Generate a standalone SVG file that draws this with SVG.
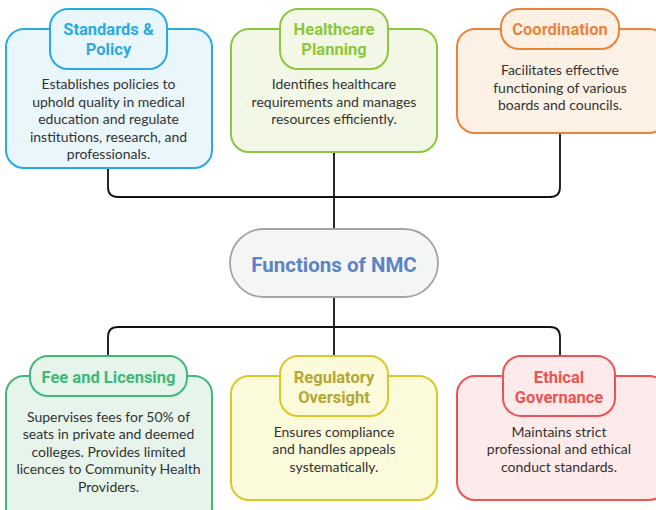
<svg xmlns="http://www.w3.org/2000/svg" width="656" height="510" viewBox="0 0 656 510">
<style>
.conn{fill:none;stroke:#111;stroke-width:1.8}
.hd{font-family:Roboto,"Liberation Sans",sans-serif;font-weight:bold;font-size:16.5px;text-anchor:middle}
.bd{font-family:Lato,"Open Sans","Liberation Sans",sans-serif;font-size:14px;fill:#333;text-anchor:middle}
.box{stroke-width:2}
</style>
<rect width="656" height="510" fill="#ffffff"/>
<g id="connectors">
<path class="conn" d="M108 168 V187 Q108 197 118 197 H550 Q560 197 560 187 V133"/>
<path class="conn" d="M334 152 V229"/>
<path class="conn" d="M334 297 V356"/>
<path class="conn" d="M108 356 V337 Q108 327 118 327 H550 Q560 327 560 337 V356"/>
</g>
<g id="standards">
<rect class="box" x="6" y="29" width="206" height="139" rx="18" fill="#e9f6fc" stroke="#29abe2"/>
<rect class="box" x="50" y="9" width="117" height="60" rx="18" fill="#e9f6fc" stroke="#29abe2"/>
<text class="hd" fill="#29abe2" x="108.5" y="35">Standards &amp;</text>
<text class="hd" fill="#29abe2" x="108.5" y="55">Policy</text>
<text class="bd" x="108.5" y="89">Establishes policies to</text>
<text class="bd" x="108.5" y="106.5">uphold quality in medical</text>
<text class="bd" x="108.5" y="124">education and regulate</text>
<text class="bd" x="108.5" y="141.5">institutions, research, and</text>
<text class="bd" x="108.5" y="159">professionals.</text>
</g>
<g id="healthcare">
<rect class="box" x="231" y="29" width="206" height="123" rx="18" fill="#f3f8e6" stroke="#8dc63f"/>
<rect class="box" x="280" y="9" width="108" height="60" rx="18" fill="#f3f8e6" stroke="#8dc63f"/>
<text class="hd" fill="#8dc63f" x="334" y="35">Healthcare</text>
<text class="hd" fill="#8dc63f" x="334" y="55">Planning</text>
<text class="bd" x="334" y="89">Identifies healthcare</text>
<text class="bd" x="334" y="106.5">requirements and manages</text>
<text class="bd" x="334" y="124">resources efficiently.</text>
</g>
<g id="coordination">
<rect class="box" x="457" y="29" width="210" height="104" rx="18" fill="#fdf1e6" stroke="#e9843a"/>
<rect class="box" x="501" y="9" width="118" height="40" rx="18" fill="#fdf1e6" stroke="#e9843a"/>
<text class="hd" fill="#e9843a" x="560" y="35">Coordination</text>
<text class="bd" x="560" y="75">Facilitates effective</text>
<text class="bd" x="560" y="92.5">functioning of various</text>
<text class="bd" x="560" y="110">boards and councils.</text>
</g>
<g id="center">
<rect x="230" y="229" width="208" height="68" rx="34" fill="#f4f6f6" stroke="#a3a3a3" stroke-width="1.8"/>
<text x="334" y="271.5" font-family="Roboto,'Liberation Sans',sans-serif" font-weight="bold" font-size="20.5" fill="#5b84c4" text-anchor="middle">Functions of NMC</text>
</g>
<g id="fee">
<rect class="box" x="6" y="376" width="206" height="150" rx="18" fill="#e6f4ec" stroke="#3fb87a"/>
<rect class="box" x="30" y="356" width="157" height="40" rx="18" fill="#e6f4ec" stroke="#3fb87a"/>
<text class="hd" fill="#3fb87a" x="108.5" y="382.5">Fee and Licensing</text>
<text class="bd" x="108.5" y="421.5">Supervises fees for 50% of</text>
<text class="bd" x="108.5" y="439">seats in private and deemed</text>
<text class="bd" x="108.5" y="456.5">colleges. Provides limited</text>
<text class="bd" x="108.5" y="474">licences to Community Health</text>
<text class="bd" x="108.5" y="491.5">Providers.</text>
</g>
<g id="regulatory">
<rect class="box" x="231" y="376" width="206" height="124" rx="18" fill="#fbfadb" stroke="#dcc726"/>
<rect class="box" x="280" y="356" width="108" height="60" rx="18" fill="#fbfadb" stroke="#dcc726"/>
<text class="hd" fill="#b3a737" x="334" y="382.5">Regulatory</text>
<text class="hd" fill="#b3a737" x="334" y="402.5">Oversight</text>
<text class="bd" x="334" y="436.5">Ensures compliance</text>
<text class="bd" x="334" y="454">and handles appeals</text>
<text class="bd" x="334" y="471.5">systematically.</text>
</g>
<g id="ethical">
<rect class="box" x="457" y="376" width="210" height="124" rx="18" fill="#fdeaea" stroke="#ea5455"/>
<rect class="box" x="503" y="356" width="112" height="60" rx="18" fill="#fdeaea" stroke="#ea5455"/>
<text class="hd" fill="#ea5455" x="559" y="382.5">Ethical</text>
<text class="hd" fill="#ea5455" x="559" y="402.5">Governance</text>
<text class="bd" x="559" y="436.5">Maintains strict</text>
<text class="bd" x="559" y="454">professional and ethical</text>
<text class="bd" x="559" y="471.5">conduct standards.</text>
</g>
</svg>
